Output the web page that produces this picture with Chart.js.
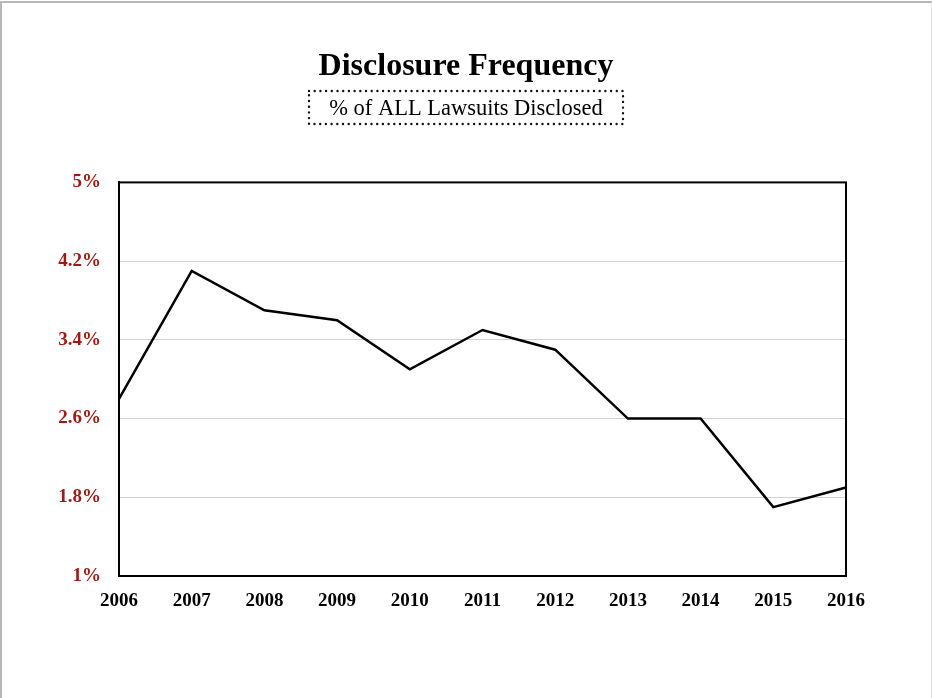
<!DOCTYPE html>
<html>
<head>
<meta charset="utf-8">
<script src="https://cdn.jsdelivr.net/npm/chart.js@4"></script>
<style>
  html, body { margin: 0; padding: 0; background: #fff; overflow: hidden; }
  #wrap { position: relative; width: 932px; height: 698px; }
  #frame {
    position: absolute; left: 0; top: 1px; width: 929px; height: 720px;
    border: 2px solid #b8b8b8; border-right-color: #e6e6e6; pointer-events: none;
  }
  canvas { position: absolute; left: 0; top: 0; }
</style>
</head>
<body>
<div id="wrap">
  <canvas id="freq" width="932" height="698"></canvas>
  <div id="frame"></div>
</div>
<script>
let years = ["2006", "2007", "2008", "2009", "2010", "2011", "2012", "2013", "2014", "2015", "2016"];
let disclosedPct = [2.8, 4.1, 3.7, 3.6, 3.1, 3.5, 3.3, 2.6, 2.6, 1.7, 1.9];
let seriesName = "% of ALL Lawsuits Disclosed";

let serif = "'Liberation Serif', 'Times New Roman', serif";

// dotted box round the subtitle, plus the full frame of the plot area
let framePlugin = {
    id: 'framePlugin',
    afterDraw: function(chart) {
        let ctx = chart.ctx;
        let a = chart.chartArea;
        ctx.save();
        ctx.strokeStyle = '#000';
        ctx.lineWidth = 2;
        ctx.strokeRect(a.left, a.top, a.right - a.left, a.bottom - a.top);

        let sub = chart.boxes.find(b => b.options && b.options.text === seriesName);
        if (sub) {
            ctx.font = '22.5px ' + serif;
            let w = ctx.measureText(seriesName).width;
            let cx = (sub.left + sub.right) / 2;
            let top = sub.top + sub.options.padding.top - 4;
            let bx = Math.round(cx - w / 2 - 20), bw = Math.round(w + 40);
            ctx.strokeStyle = '#111';
            ctx.lineWidth = 2.4;
            ctx.setLineDash([0, 5.7]);
            ctx.lineCap = 'round';
            ctx.strokeRect(bx, Math.round(top), bw, 33);
        }
        ctx.restore();
    }
};

let freqChart = new Chart(document.getElementById('freq'), {
    type: 'line',
    data: {
        labels: years,
        datasets: [{
            label: seriesName,
            data: disclosedPct,
            borderColor: '#000',
            borderWidth: 2.5,
            pointRadius: 0,
            tension: 0
        }]
    },
    options: {
        responsive: false,
        animation: false,
        layout: { padding: 0 },
        plugins: {
            legend: { display: false },
            tooltip: { enabled: false },
            title: {
                display: true,
                text: 'Disclosure Frequency',
                color: '#000',
                font: { family: serif, size: 32, weight: 'bold', lineHeight: 1.2 },
                padding: { top: 48, bottom: 9 }
            },
            subtitle: {
                display: true,
                text: seriesName,
                color: '#000',
                font: { family: serif, size: 22.5, lineHeight: 1.2 },
                padding: { top: 0, bottom: 60 }
            }
        },
        scales: {
            x: {
                grid: { display: false, drawTicks: false },
                border: { display: true, color: '#000', width: 2 },
                ticks: {
                    color: '#000',
                    padding: 14,
                    maxRotation: 0,
                    font: { family: serif, size: 19, weight: 'bold' }
                },
                afterFit: function(scale) { scale.height = 122; }
            },
            y: {
                min: 1,
                max: 5,
                grid: { color: '#d2d2d2', lineWidth: 1, drawTicks: false },
                border: { display: true, color: '#000', width: 2 },
                ticks: {
                    stepSize: 0.8,
                    color: '#9e1a12',
                    padding: 18,
                    font: { family: serif, size: 19, weight: 'bold' },
                    callback: function(value) { return value + '%'; }
                },
                afterFit: function(scale) { scale.width = 119; }
            },
            // empty right-hand axis, only keeps the margin on the right
            yRight: {
                position: 'right',
                display: true,
                grid: { display: false, drawTicks: false },
                border: { display: false },
                ticks: { display: false },
                afterFit: function(scale) { scale.width = 86; }
            }
        }
    },
    plugins: [framePlugin]
});
</script>
</body>
</html>
